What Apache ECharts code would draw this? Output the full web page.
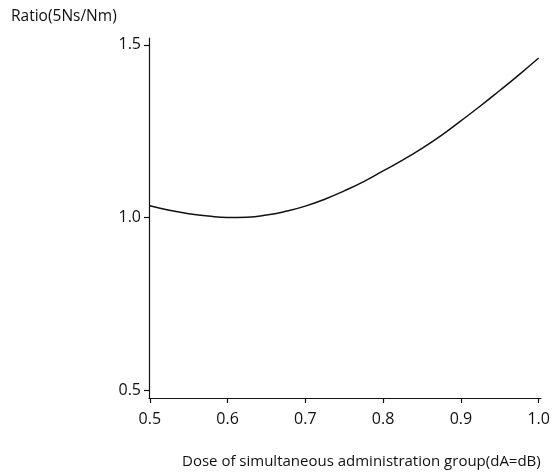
<!DOCTYPE html>
<html><head><meta charset="utf-8">
<script src="https://cdn.jsdelivr.net/npm/echarts@6/dist/echarts.min.js"></script>
<style>html,body{margin:0;padding:0;background:#fff}#c{width:552px;height:473px}</style>
</head><body><div id="c"></div>
<script>
const doses = [0.500, 0.525, 0.550, 0.575, 0.600, 0.625, 0.650, 0.675, 0.700, 0.725, 0.750,
               0.775, 0.800, 0.825, 0.850, 0.875, 0.900, 0.925, 0.950, 0.975, 1.000];
const ratios = [1.034, 1.021, 1.011, 1.004, 1.000, 1.001, 1.007, 1.018, 1.033, 1.053, 1.077,
                1.104, 1.135, 1.166, 1.200, 1.238, 1.280, 1.323, 1.368, 1.414, 1.462];
const xTicks = [0.5, 0.6, 0.7, 0.8, 0.9, 1.0];
const yTicks = [0.5, 1.0, 1.5];
const yTitle = 'Ratio(5Ns/Nm)';
const xTitle = 'Dose of simultaneous administration group(dA=dB)';

const font = '"Open Sans", "Noto Sans", sans-serif';
const chart = echarts.init(document.getElementById('c'));
chart.setOption({
  animation: false,
  backgroundColor: '#fff',
  title: [
    { text: yTitle, left: 6, top: 4, textStyle: { fontFamily: font, fontSize: 15.5, fontWeight: 'normal', color: '#111' } },
    { text: xTitle, left: 177, top: 449, textStyle: { fontFamily: font, fontSize: 15, fontWeight: 'normal', color: '#111' } }
  ],
  grid: { left: 149, right: 11, top: 38, bottom: 75, outerBoundsMode: 'none', containLabel: false },
  xAxis: {
    type: 'value', min: 0.499, max: 1.003,
    axisLine: { show: true, lineStyle: { color: '#111', width: 1.2 } },
    axisTick: { show: true, length: 5, lineStyle: { color: '#111', width: 1.2 }, customValues: xTicks },
    axisLabel: { customValues: xTicks, formatter: v => v.toFixed(1), color: '#111', fontFamily: font, fontSize: 16, margin: 13 },
    splitLine: { show: false }
  },
  yAxis: {
    type: 'value', min: 0.477, max: 1.52,
    axisLine: { show: true, lineStyle: { color: '#111', width: 1.2 } },
    axisTick: { show: true, length: 5, lineStyle: { color: '#111', width: 1.2 }, customValues: yTicks },
    axisLabel: { customValues: yTicks, formatter: v => v.toFixed(1), color: '#111', fontFamily: font, fontSize: 16, margin: 8 },
    splitLine: { show: false }
  },
  series: [{
    type: 'line', smooth: true, showSymbol: false,
    data: doses.map((d, i) => [d, ratios[i]]),
    lineStyle: { color: '#111', width: 1.5 }
  }]
});
</script></body></html>
